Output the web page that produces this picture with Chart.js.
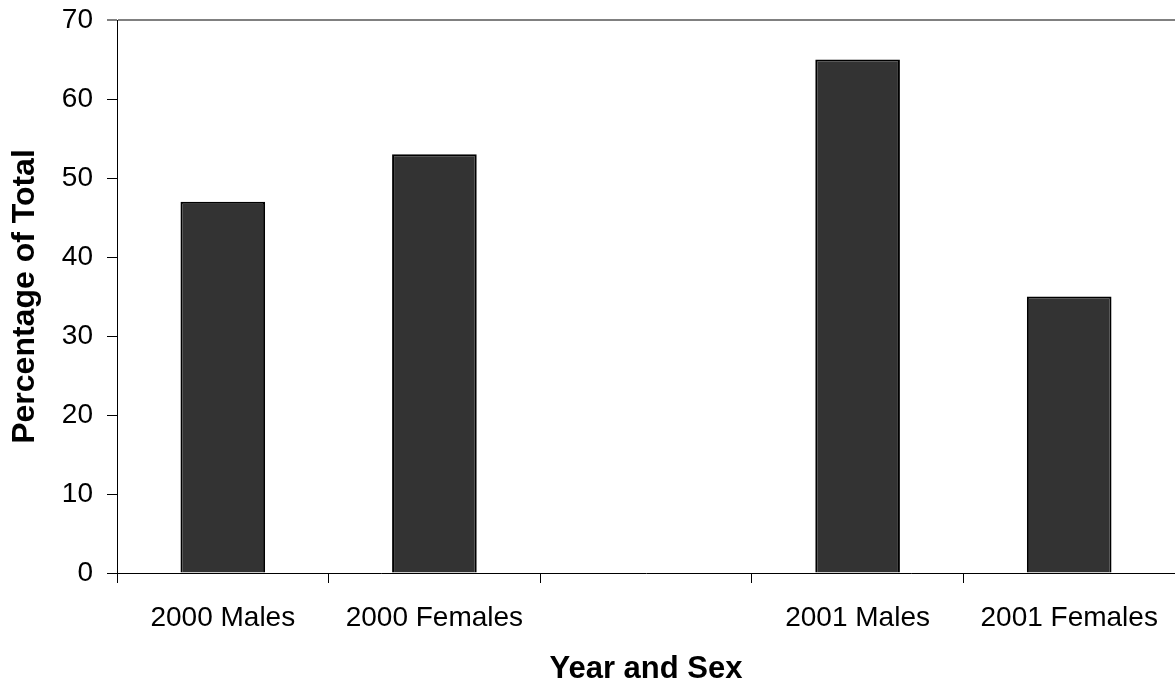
<!DOCTYPE html>
<html>
<head>
<meta charset="utf-8">
<script src="https://cdn.jsdelivr.net/npm/chart.js@4.4.1/dist/chart.umd.min.js"></script>
<style>
html,body{margin:0;padding:0;background:#fff;}
#wrap{width:1175px;height:690px;}
</style>
</head>
<body>
<div id="wrap"><canvas id="c" width="1175" height="690"></canvas></div>
<script>
const categories = ["2000 Males", "2000 Females", "", "2001 Males", "2001 Females"];
const percentages = [47, 53, null, 65, 35];
const yTicks = [0, 10, 20, 30, 40, 50, 60, 70];
const xTitle = "Year and Sex";
const yTitle = "Percentage of Total";

const FONT = "'Liberation Sans', Arial, sans-serif";

new Chart(document.getElementById('c'), {
  type: 'bar',
  data: {
    labels: categories,
    datasets: [{
      data: percentages,
      backgroundColor: '#333333',
      borderColor: '#000000',
      borderWidth: 2,
      categoryPercentage: 0.4,
      barPercentage: 1.0
    }]
  },
  options: {
    responsive: false,
    animation: false,
    layout: { padding: { top: 20, right: 0, bottom: 0, left: 0 } },
    plugins: { legend: { display: false }, tooltip: { enabled: false } },
    scales: {
      x: {
        offset: true,
        grid: { offset: true, drawOnChartArea: false, drawTicks: true, tickLength: 10, color: '#000', lineWidth: 1 },
        border: { color: '#000', width: 1 },
        ticks: { color: '#000', font: { family: FONT, size: 28 }, padding: 18, maxRotation: 0, autoSkip: false },
        title: { display: true, text: xTitle, color: '#000', font: { family: FONT, size: 31, weight: 'bold' }, padding: { top: 0, bottom: 2 } },
        afterFit: (s) => { s.height = 117; s.paddingLeft = 0; s.paddingRight = 0; }
      },
      y: {
        min: yTicks[0],
        max: yTicks[yTicks.length - 1],
        afterBuildTicks: (s) => { s.ticks = yTicks.map(v => ({ value: v })); },
        grid: {
          drawTicks: true, tickLength: 10,
          color: (ctx) => (ctx.tick && ctx.tick.value === 70) ? '#808080' : 'rgba(0,0,0,0)',
          lineWidth: (ctx) => (ctx.tick && ctx.tick.value === 70) ? 2 : 1,
          tickColor: '#000', tickWidth: 1
        },
        border: { color: '#000', width: 1 },
        ticks: { color: '#000', font: { family: FONT, size: 28 }, padding: 14 },
        title: { display: true, text: yTitle, color: '#000', font: { family: FONT, size: 32, weight: 'bold' }, padding: { top: 6, bottom: 0 } },
        afterFit: (s) => { s.width = 117; s.paddingTop = 0; s.paddingBottom = 0; }
      }
    }
  }
});
</script>
</body>
</html>
